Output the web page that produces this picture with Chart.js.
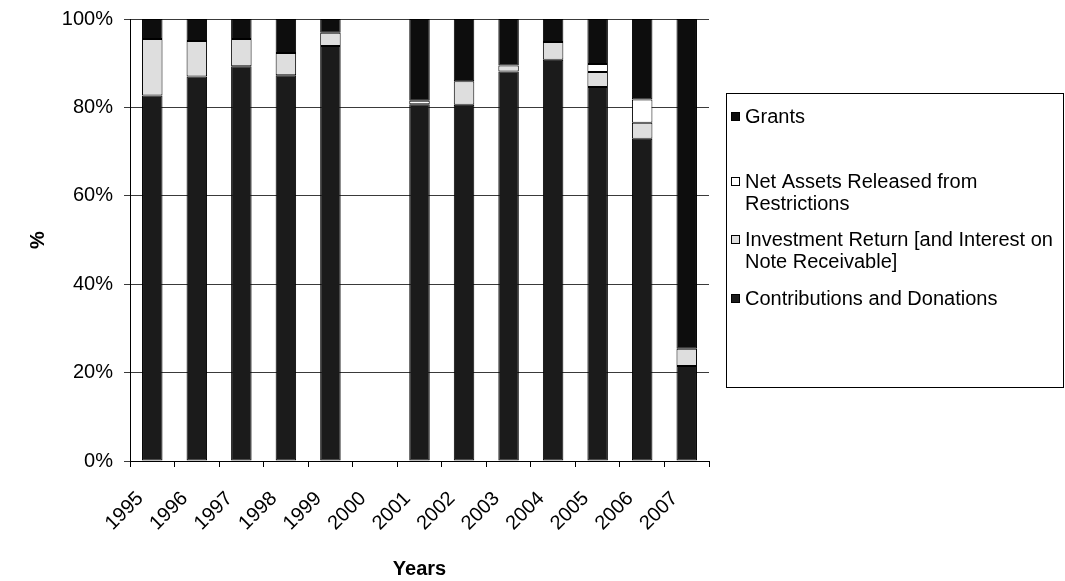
<!DOCTYPE html>
<html>
<head>
<meta charset="utf-8">
<script src="https://cdn.jsdelivr.net/npm/chart.js@4.4.1/dist/chart.umd.min.js"></script>
<style>
  html, body { margin: 0; padding: 0; background: #fff; }
  #wrap { width: 1065px; height: 581px; }
</style>
</head>
<body>
<div id="wrap"><canvas id="c" width="1065" height="581"></canvas></div>
<script>
// Share of revenue by source, per year (percent of total)
const years = ['1995', '1996', '1997', '1998', '1999', '2000', '2001', '2002', '2003', '2004', '2005', '2006', '2007'];
const contributions = [82.7, 87.0, 89.3, 87.3, 93.9, 0, 80.7, 80.6, 88.1, 90.8, 84.6, 72.9, 21.5];
const investment    = [12.8, 8.0, 6.2, 5.0, 3.0, 0, 0, 5.3, 1.4, 4.0, 3.4, 3.6, 3.9];
const netAssets     = [0, 0, 0, 0, 0, 0, 0.8, 0, 0, 0, 1.8, 5.3, 0];
const grants        = [4.5, 5.0, 4.5, 7.7, 3.1, 0, 18.5, 14.1, 10.5, 5.2, 10.2, 18.2, 74.6];
const yTicks = [0, 20, 40, 60, 80, 100];

const FONT = "'Liberation Sans', Arial, sans-serif";
const DARK = '#1b1b1b';
const LIGHT = '#dedede';

const datasets = [
  { label: 'Contributions and Donations', data: contributions, backgroundColor: DARK },
  { label: 'Investment Return [and Interest on Note Receivable]', data: investment, backgroundColor: LIGHT },
  { label: 'Net Assets Released from Restrictions', data: netAssets, backgroundColor: '#ffffff' },
  { label: 'Grants', data: grants, backgroundColor: '#0d0d0d' }
].map(d => Object.assign(d, {
  borderColor: '#000',
  borderWidth: 1,
  borderSkipped: false,
  barPercentage: 0.92,
  categoryPercentage: 0.5
}));

// Boxed legend on the right, top item = last dataset, long names wrapped
const boxLegend = {
  id: 'boxLegend',
  afterDraw(chart) {
    const ctx = chart.ctx;
    const area = chart.chartArea;
    const x0 = Math.round(area.right) + 17;
    const y0 = 93;
    const x1 = chart.width - 2;
    const y1 = 387;
    ctx.save();
    ctx.strokeStyle = '#000';
    ctx.lineWidth = 1;
    ctx.strokeRect(x0 + 0.5, y0 + 0.5, x1 - x0, y1 - y0);

    ctx.font = '20px ' + FONT;
    ctx.fillStyle = '#000';
    ctx.textBaseline = 'middle';
    ctx.textAlign = 'left';
    const textX = x0 + 19;
    const maxW = x1 - textX - 8;
    const rowY = [117, 182, 240, 299];
    const lineH = 22;
    const items = chart.data.datasets.slice().reverse();
    items.forEach((ds, i) => {
      // word wrap
      const words = ds.label.split(' ');
      const lines = [];
      let cur = '';
      words.forEach(w => {
        const t = cur ? cur + ' ' + w : w;
        if (ctx.measureText(t).width > maxW && cur) { lines.push(cur); cur = w; }
        else cur = t;
      });
      if (cur) lines.push(cur);
      const y = rowY[i];
      ctx.fillStyle = ds.backgroundColor;
      ctx.fillRect(x0 + 5, y - 5, 9, 9);
      ctx.strokeStyle = '#000';
      ctx.strokeRect(x0 + 5.5, y - 4.5, 8, 8);
      ctx.fillStyle = '#000';
      lines.forEach((ln, k) => ctx.fillText(ln, textX, y + k * lineH));
    });
    ctx.restore();
  }
};

new Chart(document.getElementById('c'), {
  type: 'bar',
  data: { labels: years, datasets },
  options: {
    responsive: false,
    animation: false,
    devicePixelRatio: 1,
    layout: { padding: { left: 0, right: 356, top: 19, bottom: 0 } },
    plugins: {
      legend: { display: false },
      tooltip: { enabled: false }
    },
    scales: {
      x: {
        stacked: true,
        grid: { display: true, drawOnChartArea: false, drawTicks: true, tickLength: 6, color: '#000', offset: true },
        border: { display: true, color: '#000', width: 1 },
        ticks: {
          color: '#000',
          font: { family: FONT, size: 20 },
          minRotation: 45,
          maxRotation: 45,
          padding: 20,
          labelOffset: -12,
          autoSkip: false
        },
        title: {
          display: true,
          text: 'Years',
          color: '#000',
          font: { family: FONT, size: 20, weight: 'bold' },
          padding: { top: 4, bottom: 0 }
        },
        afterFit(scale) { scale.height = 120; scale.paddingLeft = 0; scale.paddingRight = 0; }
      },
      y: {
        stacked: true,
        min: 0,
        max: 100,
        afterBuildTicks(scale) { scale.ticks = yTicks.map(v => ({ value: v })); },
        grid: { color: '#3a3a3a', lineWidth: 1, tickLength: 6, drawTicks: true },
        border: { display: true, color: '#000', width: 1 },
        ticks: {
          color: '#000',
          font: { family: FONT, size: 20 },
          padding: 11,
          callback: v => v + '%'
        },
        title: {
          display: true,
          text: '%',
          color: '#000',
          font: { family: FONT, size: 20, weight: 'bold' },
          padding: { top: 26, bottom: 0 }
        },
        afterFit(scale) { scale.width = 130; scale.paddingTop = 0; scale.paddingBottom = 0; }
      }
    }
  },
  plugins: [boxLegend]
});
</script>
</body>
</html>
